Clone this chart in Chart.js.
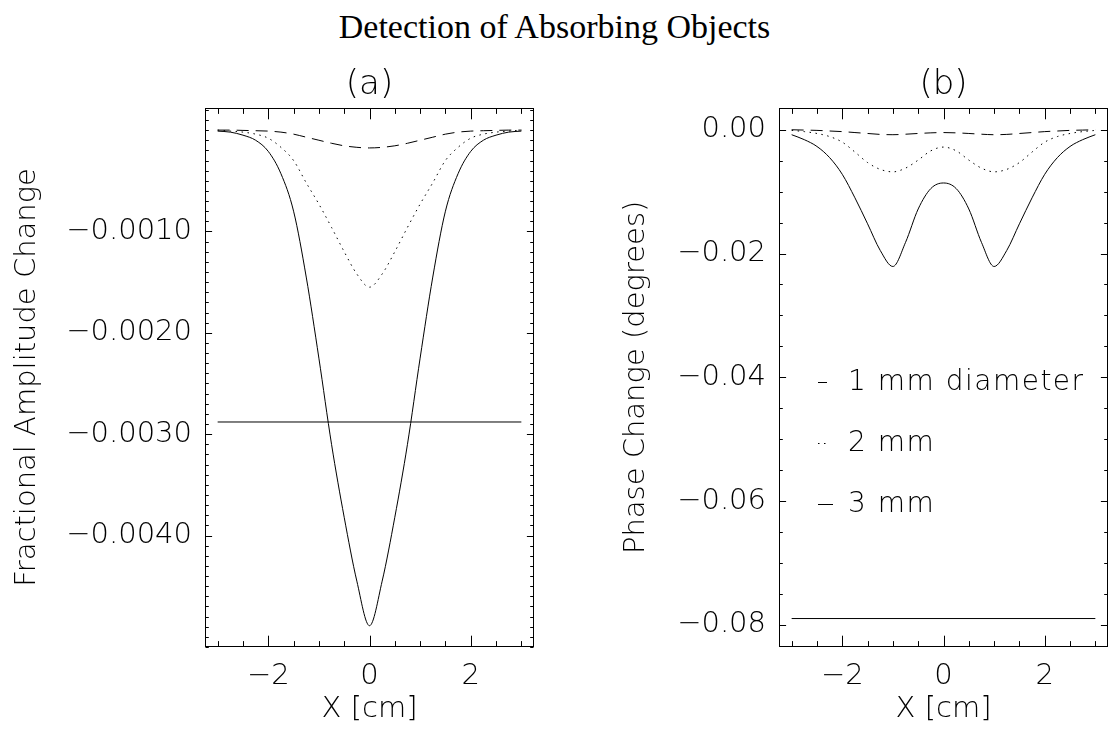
<!DOCTYPE html>
<html>
<head>
<meta charset="utf-8">
<title>Detection of Absorbing Objects</title>
<script src="https://cdn.jsdelivr.net/npm/chart.js@4.4.1/dist/chart.umd.min.js"></script>
<style>
  html, body { margin: 0; padding: 0; background: #fff; overflow: hidden; }
  #page { position: relative; width: 1109px; height: 736px; }
  #title {
    position: absolute; left: 0; top: 8px; width: 1109px; text-align: center;
    font-family: "Liberation Serif", "Times New Roman", serif; font-size: 34px; color: #000;
  }
  .panel { position: absolute; top: 0; height: 736px; }
  #panelA { left: 0; width: 560px; }
  #panelB { left: 574px; width: 535px; }
</style>
</head>
<body>
<div id="page">
  <div id="title">Detection of Absorbing Objects</div>
  <div class="panel" id="panelA"><canvas id="chartA"></canvas></div>
  <div class="panel" id="panelB"><canvas id="chartB"></canvas></div>
</div>
<script>
// positions along the scan line, cm
const xPos = [-3, -2.75, -2.5, -2.25, -2, -1.75, -1.5, -1.25, -1, -0.75, -0.5, -0.25, 0,
  0.25, 0.5, 0.75, 1, 1.25, 1.5, 1.75, 2, 2.25, 2.5, 2.75, 3];
const noiseX = [-3, 3];

// (a) fractional amplitude change
const ampSmall = [0, 0, -0.000003, -0.000006, -0.00001, -0.00002, -0.00004, -0.00007, -0.0001, -0.00013, -0.000155, -0.00017, -0.000176,
  -0.00017, -0.000155, -0.00013, -0.0001, -0.00007, -0.00004, -0.00002, -0.00001, -0.000006, -0.000003, 0, 0];
const ampMid = [0, -0.00001, -0.00002, -0.00004, -0.00008, -0.00017, -0.0003, -0.00052, -0.00073, -0.00096, -0.0012, -0.00142, -0.00155,
  -0.00142, -0.0012, -0.00096, -0.00073, -0.00052, -0.0003, -0.00017, -0.00008, -0.00004, -0.00002, -0.00001, 0];
const ampLarge = [-0.00001, -0.00002, -0.00005, -0.0001, -0.00021, -0.00043, -0.0008, -0.00145, -0.00225, -0.0031, -0.00382, -0.00445, -0.00489,
  -0.00445, -0.00382, -0.0031, -0.00225, -0.00145, -0.0008, -0.00043, -0.00021, -0.0001, -0.00005, -0.00002, -0.00001];
const ampNoise = [-0.00288, -0.00288];

// (b) phase change, degrees
const phaseSmall = [0, -0.00005, -0.0001, -0.0002, -0.0003, -0.00045, -0.0006, -0.00075, -0.0008, -0.00072, -0.0006, -0.0005, -0.00045,
  -0.0005, -0.0006, -0.00072, -0.0008, -0.00075, -0.0006, -0.00045, -0.0003, -0.0002, -0.0001, -0.00005, 0];
const phaseMid = [-0.0001, -0.0003, -0.0006, -0.0011, -0.002, -0.0036, -0.0053, -0.0064, -0.0068, -0.0062, -0.0049, -0.0034, -0.0028,
  -0.0034, -0.0049, -0.0062, -0.0068, -0.0064, -0.0053, -0.0036, -0.002, -0.0011, -0.0006, -0.0003, -0.0001];
const phaseLarge = [-0.0008, -0.0016, -0.0027, -0.0045, -0.0072, -0.011, -0.0152, -0.0195, -0.0221, -0.0182, -0.0128, -0.0095, -0.0086,
  -0.0095, -0.0128, -0.0182, -0.0221, -0.0195, -0.0152, -0.011, -0.0072, -0.0045, -0.0027, -0.0016, -0.0008];
const phaseNoise = [-0.079, -0.079];

const legendLabels = ['1 mm diameter', '2 mm', '3 mm'];

const xTicks = [-2, 0, 2];
const xTickLabels = ['\u22122', '0', '2'];
const ampTicks = [-0.001, -0.002, -0.003, -0.004];
const ampTickLabels = ['\u22120.0010', '\u22120.0020', '\u22120.0030', '\u22120.0040'];
const phaseTicks = [0, -0.02, -0.04, -0.06, -0.08];
const phaseTickLabels = ['0.00', '\u22120.02', '\u22120.04', '\u22120.06', '\u22120.08'];

const el = (id) => document.getElementById(id);
const FONT = '"DejaVu Sans", "Liberation Sans", sans-serif';
const DASHED = [12, 7];
const DOTTED = [1.5, 4.5];

Chart.defaults.font.family = FONT;
Chart.defaults.color = '#000';

function series(xs, ys) {
  return xs.map((x, i) => ({ x, y: ys[i] }));
}

function lineSet(label, xs, ys, dash) {
  return {
    label,
    data: series(xs, ys),
    borderColor: '#000',
    borderWidth: 1,
    borderDash: dash,
    pointRadius: 0,
    fill: false,
    cubicInterpolationMode: 'monotone',
  };
}

// IDL-style box: frame on all four sides with inward major/minor ticks
const boxTicks = {
  id: 'boxTicks',
  afterDatasetsDraw(chart, args, opts) {
    const { ctx, chartArea: a, scales: { x, y } } = chart;
    const L = Math.round(a.left) + 0.5, R = Math.round(a.right) - 0.5;
    const T = Math.round(a.top) + 0.5, B = Math.round(a.bottom) - 0.5;
    ctx.save();
    ctx.strokeStyle = '#000';
    ctx.lineWidth = 1;
    ctx.setLineDash([]);
    ctx.strokeRect(L, T, R - L, B - T);
    ctx.beginPath();
    const xTick = (v, len) => {
      const px = Math.round(x.getPixelForValue(v)) + 0.5;
      ctx.moveTo(px, B); ctx.lineTo(px, B - len);
      ctx.moveTo(px, T); ctx.lineTo(px, T + len);
    };
    const yTick = (v, len) => {
      const py = Math.round(y.getPixelForValue(v)) + 0.5;
      ctx.moveTo(L, py); ctx.lineTo(L + len, py);
      ctx.moveTo(R, py); ctx.lineTo(R - len, py);
    };
    for (let k = Math.ceil(x.min / opts.xMinor); k * opts.xMinor <= x.max; k++) xTick(k * opts.xMinor, opts.xLen / 2);
    opts.xMajor.forEach(v => xTick(v, opts.xLen));
    for (let k = Math.ceil(y.min / opts.yMinor); k * opts.yMinor <= y.max + 1e-12; k++) yTick(k * opts.yMinor, opts.yLen / 2);
    opts.yMajor.forEach(v => yTick(v, opts.yLen));
    ctx.stroke();
    ctx.restore();
  }
};

const boxLegend = {
  id: 'boxLegend',
  afterDraw(chart, args, opts) {
    if (!opts.labels) return;
    const { ctx, chartArea: a } = chart;
    ctx.save();
    ctx.strokeStyle = '#000';
    ctx.fillStyle = '#000';
    ctx.lineWidth = 1;
    ctx.font = `200 ${opts.size}px ${FONT}`;
    ctx.letterSpacing = opts.spacing + 'px';
    ctx.textBaseline = 'middle';
    opts.labels.forEach((text, i) => {
      const ds = chart.data.datasets[i];
      const yy = Math.round(a.top + opts.top + i * opts.step) + 0.5;
      ctx.setLineDash(ds.borderDash || []);
      ctx.beginPath();
      ctx.moveTo(a.left + opts.left, yy);
      ctx.lineTo(a.left + opts.left + opts.sample[i], yy);
      ctx.stroke();
      ctx.setLineDash([]);
      ctx.fillText(text, a.left + opts.textLeft, yy);
    });
    ctx.restore();
  }
};

function panelChart(id, cfg) {
  const font = { size: 29, weight: 200, lineHeight: 1.2 };
  return new Chart(el(id), {
    type: 'line',
    data: { datasets: cfg.datasets },
    options: {
      responsive: true,
      maintainAspectRatio: false,
      animation: false,
      devicePixelRatio: 1,
      layout: { padding: { left: 0, right: cfg.padRight, top: 0, bottom: 0 } },
      plugins: {
        legend: { display: false },
        tooltip: { enabled: false },
        title: {
          display: true, text: cfg.tag, fullSize: false, color: '#000',
          font: { size: 34, weight: 200, lineHeight: 1.2 },
          padding: { top: 65, bottom: 2 },
        },
        boxTicks: { xMajor: xTicks, xMinor: 0.5, xLen: 10.8, yMajor: cfg.yTicks, yMinor: cfg.yMinor, yLen: 6.6 },
        boxLegend: cfg.legend || {},
      },
      scales: {
        x: {
          type: 'linear', min: -3.25, max: 3.25,
          afterBuildTicks: (s) => { s.ticks = xTicks.map(v => ({ value: v })); },
          afterFit: (s) => { s.height = 89; },
          grid: { display: false, drawTicks: false },
          border: { display: false },
          ticks: { padding: 12, font, color: '#000', maxRotation: 0, callback: (v, i) => xTickLabels[i] },
          title: { display: true, text: 'X [cm]', font, color: '#000', padding: { top: 0, bottom: 9 } },
        },
        y: {
          type: 'linear', min: cfg.yMin, max: cfg.yMax,
          afterBuildTicks: (s) => { s.ticks = cfg.yTicks.map(v => ({ value: v })); },
          afterFit: (s) => { s.width = 205; },
          grid: { display: false, drawTicks: false },
          border: { display: false },
          ticks: { padding: 13, font, color: '#000', callback: (v, i) => cfg.yLabels[i] },
          title: { display: true, text: cfg.yTitle, font, color: '#000', padding: { top: cfg.yTitlePad, bottom: 0 } },
        },
      },
    },
    plugins: [boxTicks, boxLegend],
  });
}

document.addEventListener('DOMContentLoaded', () => {
  panelChart('chartA', {
    tag: '(a)',
    padRight: 26,
    yMin: -0.0051, yMax: 0.00022,
    yTicks: ampTicks, yLabels: ampTickLabels, yMinor: 0.0001,
    yTitle: 'Fractional Amplitude Change', yTitlePad: 10,
    datasets: [
      lineSet('1 mm diameter', xPos, ampSmall, DASHED),
      lineSet('2 mm', xPos, ampMid, DOTTED),
      lineSet('3 mm', xPos, ampLarge, []),
      lineSet('noise', noiseX, ampNoise, []),
    ],
  });

  panelChart('chartB', {
    tag: '(b)',
    padRight: 1,
    yMin: -0.0836, yMax: 0.00355,
    yTicks: phaseTicks, yLabels: phaseTickLabels, yMinor: 0.005,
    yTitle: 'Phase Change (degrees)', yTitlePad: 44.6,
    legend: { labels: legendLabels, size: 28, spacing: 1.5, top: 274, step: 61, left: 39, sample: [9, 11, 15], textLeft: 69 },
    datasets: [
      lineSet('1 mm diameter', xPos, phaseSmall, DASHED),
      lineSet('2 mm', xPos, phaseMid, DOTTED),
      lineSet('3 mm', xPos, phaseLarge, []),
      lineSet('noise', noiseX, phaseNoise, []),
    ],
  });
});
</script>
</body>
</html>
